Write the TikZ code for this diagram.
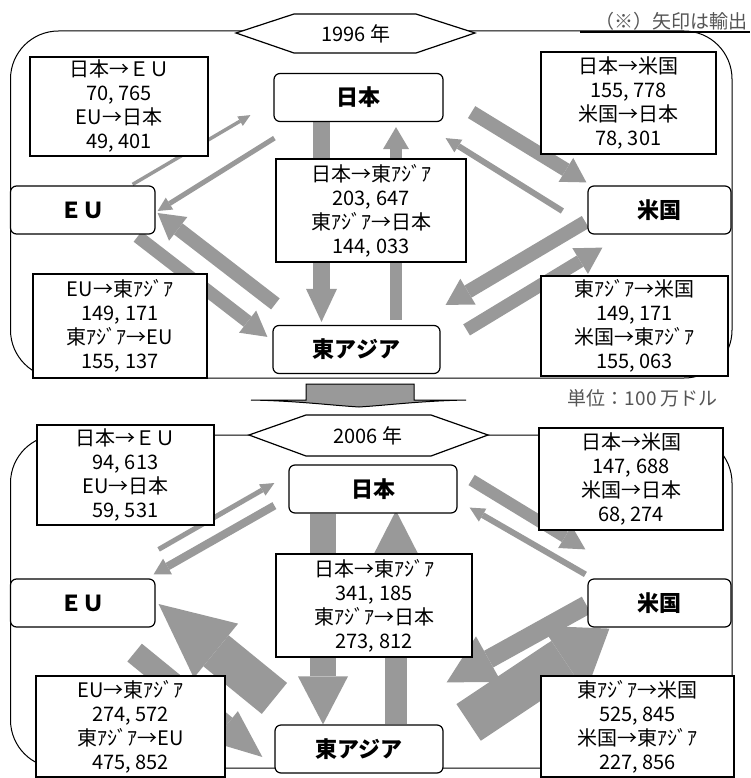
\documentclass[tikz,border=0pt]{standalone}
\usepackage{fontspec}
\setmainfont{Noto Sans CJK JP}
\usetikzlibrary{arrows.meta}
\pgfdeclarelayer{flows}
\pgfsetlayers{flows,main}
\definecolor{flowgray}{HTML}{999999}
\definecolor{notegray}{HTML}{555555}
\tikzset{
  flow/.style n args={3}{draw=flowgray, line width=#1,
    -{Triangle[length=#3, width=#2, line width=0pt]}},
  panel/.style={draw, line width=1pt, rounded corners=48pt},
  place/.style={draw, fill=white, line width=1.2pt, rounded corners=6pt,
    minimum height=48pt, inner sep=0pt, font=\fontsize{22}{26}\selectfont\bfseries},
  figs/.style={draw, fill=white, line width=1.2pt, align=center, inner sep=0pt,
    font=\fontsize{20}{24}\selectfont},
  yearbox/.style={draw, fill=white, line width=1.2pt},
  yeartext/.style={font=\fontsize{20}{24}\selectfont},
  remark/.style={text=notegray, inner sep=0pt, font=\fontsize{19}{22}\selectfont}
}

\begin{document}
\begin{tikzpicture}[x=1pt, y=-1pt]
\useasboundingbox (0,0) rectangle (750,778);
\begin{pgfonlayer}{flows}
  %% panel frames
  \draw[panel] (10.5,31) rectangle (732,378);
  \draw[panel] (10.5,435) rectangle (732,768);
\end{pgfonlayer}

%% notes
\node[remark, anchor=east] (memo) at (748,21) {（※）矢印は輸出};
\draw[line width=1.5pt] (580,32) -- (750,32);
\node[remark, anchor=east] (unit) at (718,398) {単位：100 万ドル};

%% 1996 panel
\draw[yearbox] (236,33) -- (294,14) -- (416,14) -- (475,33) -- (416,53) -- (294,53) -- cycle;
\node[yeartext] (y96) at (356,34) {1996 年};
\node[place, minimum width=169pt] (jp96) at (358.5,97.5) {日本};
\node[place, minimum width=144.5pt] (eu96) at (82.75,210) {ＥＵ};
\node[place, minimum width=143pt] (us96) at (659.5,210) {米国};
\node[place, minimum width=167pt] (ea96) at (356.5,349.5) {東アジア};
\node[figs, minimum width=178pt, minimum height=99pt] (jpeu96) at (119,106.5) {日本→ＥＵ\\70, 765\\EU→日本\\49, 401};
\node[figs, minimum width=175pt, minimum height=102pt] (jpus96) at (628.5,103) {日本→米国\\155, 778\\米国→日本\\78, 301};
\node[figs, minimum width=190pt, minimum height=103pt] (jpea96) at (371,210.5) {日本→東ｱｼﾞｱ\\203, 647\\東ｱｼﾞｱ→日本\\144, 033};
\node[figs, minimum width=174pt, minimum height=104pt] (euea96) at (120,326) {EU→東ｱｼﾞｱ\\149, 171\\東ｱｼﾞｱ→EU\\155, 137};
\node[figs, minimum width=187pt, minimum height=100pt] (eaus96) at (634.5,326) {東ｱｼﾞｱ→米国\\149, 171\\米国→東ｱｼﾞｱ\\155, 063};

%% change between the years
\draw[fill=flowgray, line width=1pt] (306,384) -- (414,384) -- (414,400) -- (466,400)
  .. controls (420,401) and (390,405) .. (359,407)
  .. controls (328,405) and (298,401) .. (251,400) -- (306,400) -- cycle;

%% 2006 panel
\draw[yearbox] (249,435) -- (306,415) -- (431,415) -- (488,435) -- (431,456) -- (306,456) -- cycle;
\node[yeartext] (y06) at (368,436) {2006 年};
\node[place, minimum width=168pt] (jp06) at (373,489) {日本};
\node[place, minimum width=144.5pt] (eu06) at (82.75,603) {ＥＵ};
\node[place, minimum width=143pt] (us06) at (659.5,603) {米国};
\node[place, minimum width=168pt] (ea06) at (359,749) {東アジア};
\node[figs, minimum width=177pt, minimum height=100pt] (jpeu06) at (125.5,475) {日本→ＥＵ\\94, 613\\EU→日本\\59, 531};
\node[figs, minimum width=184pt, minimum height=102pt] (jpus06) at (631,479) {日本→米国\\147, 688\\米国→日本\\68, 274};
\node[figs, minimum width=196pt, minimum height=103pt] (jpea06) at (374,605.5) {日本→東ｱｼﾞｱ\\341, 185\\東ｱｼﾞｱ→日本\\273, 812};
\node[figs, minimum width=189pt, minimum height=101pt] (euea06) at (130.5,726.5) {EU→東ｱｼﾞｱ\\274, 572\\東ｱｼﾞｱ→EU\\475, 852};
\node[figs, minimum width=193pt, minimum height=101pt] (eaus06) at (637.5,726.5) {東ｱｼﾞｱ→米国\\525, 845\\米国→東ｱｼﾞｱ\\227, 856};

\begin{pgfonlayer}{flows}
  %% 1996 trade flows
  \draw[flow={5pt}{14pt}{14pt}] ([shift={(1,16)}]jp96.south west) -- ([shift={(2,1)}]eu96.east);
  \draw[flow={3.5pt}{11pt}{12pt}] ([shift={(-23,-1)}]eu96.north east) -- ([shift={(-23,-7)}]jp96.south west);
  \draw[flow={17pt}{31pt}{33pt}] ([xshift=-37]jp96.south) -- ([shift={(-35,-3)}]ea96.north);
  \draw[flow={12pt}{26pt}{22pt}] ([shift={(39.5,-5)}]ea96.north) -- ([shift={(37.5,5)}]jp96.south);
  \draw[flow={14pt}{28pt}{24pt}] ([shift={(28,-10)}]jp96.south east) -- ([shift={(-1,-3)}]us96.north west);
  \draw[flow={6pt}{15pt}{15pt}] ([shift={(-25,1)}]us96.west) -- ([shift={(2,16)}]jp96.south east);
  \draw[flow={14pt}{30pt}{26pt}] ([shift={(-2,12)}]us96.west) -- ([shift={(5,-20)}]ea96.north east);
  \draw[flow={13pt}{30pt}{26pt}] ([shift={(26,5)}]ea96.north east) -- ([shift={(15,13)}]us96.south west);
  \draw[flow={13pt}{28pt}{25pt}] ([shift={(-18,2)}]eu96.south east) -- ([shift={(-5,12)}]ea96.north west);
  \draw[flow={14pt}{30pt}{26pt}] ([shift={(3,-21)}]ea96.north west) -- ([shift={(2,3)}]eu96.east);
  %% 2006 trade flows
  \draw[flow={8pt}{18pt}{16pt}] ([shift={(-14,-8)}]jp06.south west) -- ([shift={(-2,-4)}]eu06.north east);
  \draw[flow={5pt}{13pt}{14pt}] ([shift={(3,-29)}]eu06.north east) -- ([shift={(-14,-6)}]jp06.west);
  \draw[flow={26pt}{50pt}{48pt}] ([xshift=-50]jp06.south) -- ([xshift=-36]ea06.north);
  \draw[flow={22pt}{45pt}{44pt}] ([xshift=37]ea06.north) -- ([shift={(23,-3)}]jp06.south);
  \draw[flow={12pt}{26pt}{24pt}] ([shift={(14,-9)}]jp06.east) -- ([shift={(-2,-29)}]us06.north west);
  \draw[flow={6pt}{15pt}{15pt}] ([shift={(-2,-4)}]us06.north west) -- ([shift={(12,-6)}]jp06.south east);
  \draw[flow={19pt}{52pt}{48pt}] ([shift={(-1,2)}]us06.west) -- ([shift={(3,-42)}]ea06.north east);
  \draw[flow={44pt}{80pt}{55pt}] ([shift={(25,-2)}]ea06.north east) -- ([shift={(22,1)}]us06.south west);
  \draw[flow={23pt}{40pt}{48pt}] ([shift={(-21,25)}]eu06.south east) -- ([shift={(-12,8)}]ea06.west);
  \draw[flow={40pt}{70pt}{74pt}] ([shift={(0,-26)}]ea06.north west) -- ([shift={(3,1)}]eu06.east);
\end{pgfonlayer}
\end{tikzpicture}
\end{document}
